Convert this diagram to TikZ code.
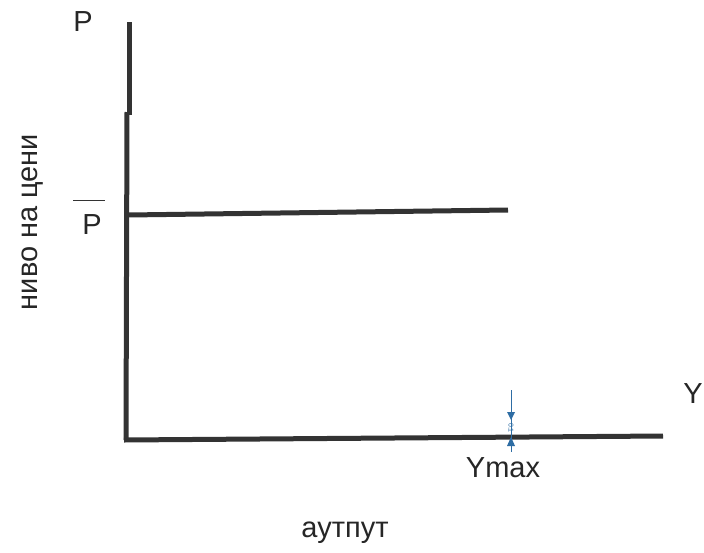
\documentclass[tikz,border=0pt]{standalone}
\usepackage{fontspec}
\setmainfont{Liberation Sans}
\definecolor{mk}{HTML}{2E6DA4}
\begin{document}
\begin{tikzpicture}[x=1pt,y=-1pt,
  axisline/.style={line width=5pt,color=black!80},
  lbl/.style={inner sep=0pt,font=\fontsize{29}{34}\selectfont,text=black!85},
  marker/.style={draw=mk,line width=0.8pt}]
\useasboundingbox (0,0) rectangle (704,552);
\fill[white] (0,0) rectangle (704,552);
% axes
\coordinate (vtop) at (129,22);
\coordinate (orig) at (126,440);
\coordinate (hend) at (663,436);
\draw[axisline] (vtop) -- (129,115);
\draw[axisline] (127,112) -- (orig);
\draw[axisline] (124,440) -- (hend);
% price level line
\coordinate (pl) at (128,215);
\coordinate (pr) at (508,210);
\draw[axisline] (pl) -- (pr);
% labels
\node[lbl] (P) at (83,22) {P};
\node[lbl] (Pbar) at (92,225) {P};
\coordinate (ob1) at (73,200);
\coordinate (ob2) at (105,200);
\draw[line width=0.9pt,black!80] (ob1) -- (ob2);
\node[lbl] (Y) at (693,394) {Y};
\node[lbl] (Ymax) at (503,468) {Ymax};
\node[lbl] (out) at (345,533) {аутпут};
\node[lbl,rotate=90] (niv) at (33,222) {ниво на цени};
% small blue dimension marker
\coordinate (m1) at (511,390);
\coordinate (m2) at (511,452);
\draw[marker] (m1) -- (m2);
\fill[mk] (507,412) -- (515,412) -- (511,420) -- cycle;
\fill[mk] (507,446) -- (515,446) -- (511,437) -- cycle;
\node[inner sep=0pt,font=\fontsize{7}{8}\selectfont,text=mk,rotate=-90] (mt) at (511,428) {0.1};
\end{tikzpicture}
\end{document}
